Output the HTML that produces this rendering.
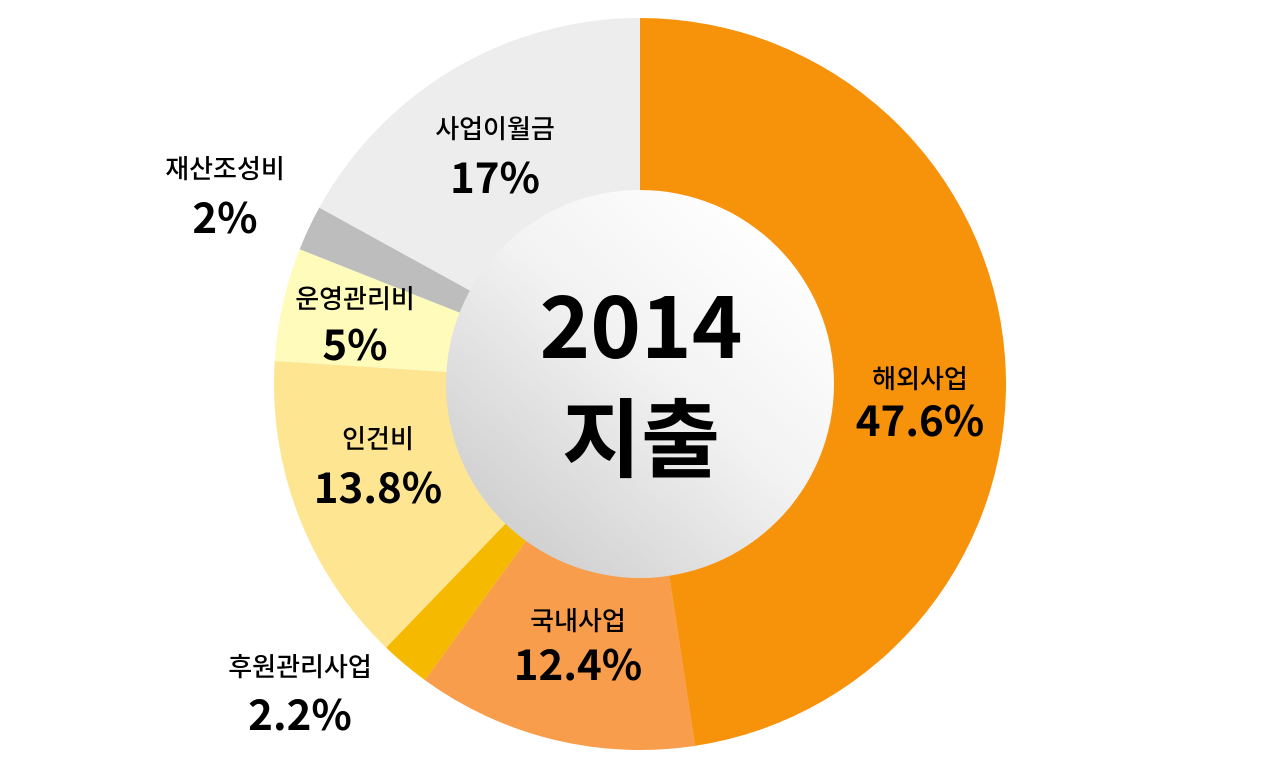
<!DOCTYPE html>
<html><head><meta charset="utf-8"><style>
html,body{margin:0;padding:0;background:#fff;}
svg{display:block;}
text{font-family:"Noto Sans CJK KR",sans-serif;text-anchor:middle;fill:#000;}
.l{font-size:26px;font-weight:500;}
.p{font-size:42px;font-weight:700;}
.c{font-size:86px;font-weight:700;}
</style></head><body>
<svg id="s" width="1280" height="768" viewBox="0 0 1280 768">
<defs>
<linearGradient id="g" x1="0.85" y1="0.1" x2="0.15" y2="0.9">
<stop offset="0" stop-color="#ffffff"/><stop offset="0.45" stop-color="#f2f2f2"/><stop offset="1" stop-color="#cfcfcf"/>
</linearGradient>
</defs>
<g id="slices"></g>
<circle cx="640" cy="384" r="194" fill="url(#g)"/>
<text class="c" x="641" y="358">2014</text>
<text class="c" x="641" y="470">지출</text>
<text class="l" x="920" y="388">해외사업</text>
<text class="p" x="920" y="436">47.6%</text>
<text class="l" x="578" y="630">국내사업</text>
<text class="p" x="578" y="680">12.4%</text>
<text class="l" x="300" y="676">후원관리사업</text>
<text class="p" x="300" y="730">2.2%</text>
<text class="l" x="378" y="448">인건비</text>
<text class="p" x="378" y="503">13.8%</text>
<text class="l" x="355" y="308">운영관리비</text>
<text class="p" x="355" y="360">5%</text>
<text class="l" x="225" y="178">재산조성비</text>
<text class="p" x="225" y="233">2%</text>
<text class="l" x="495" y="138">사업이월금</text>
<text class="p" x="495" y="193">17%</text>
</svg>
<script>
var d=[[47.6,"#F7920B"],[12.4,"#F79D4C"],[2.2,"#F5BA00"],[13.8,"#FDE592"],[5,"#FFFBBB"],[2,"#BDBDBD"],[17,"#EDEDED"]];
var cx=640,cy=384,r=366,a=0,h="";
d.forEach(function(s){var b=a+s[0]*3.6;var a1=a*Math.PI/180,b1=b*Math.PI/180;
var x1=cx+r*Math.sin(a1),y1=cy-r*Math.cos(a1),x2=cx+r*Math.sin(b1),y2=cy-r*Math.cos(b1);
h+='<path d="M'+cx+' '+cy+' L'+x1+' '+y1+' A'+r+' '+r+' 0 '+((b-a)>180?1:0)+' 1 '+x2+' '+y2+' Z" fill="'+s[1]+'"/>';a=b;});
document.getElementById("slices").innerHTML=h;
</script>
</body></html>
